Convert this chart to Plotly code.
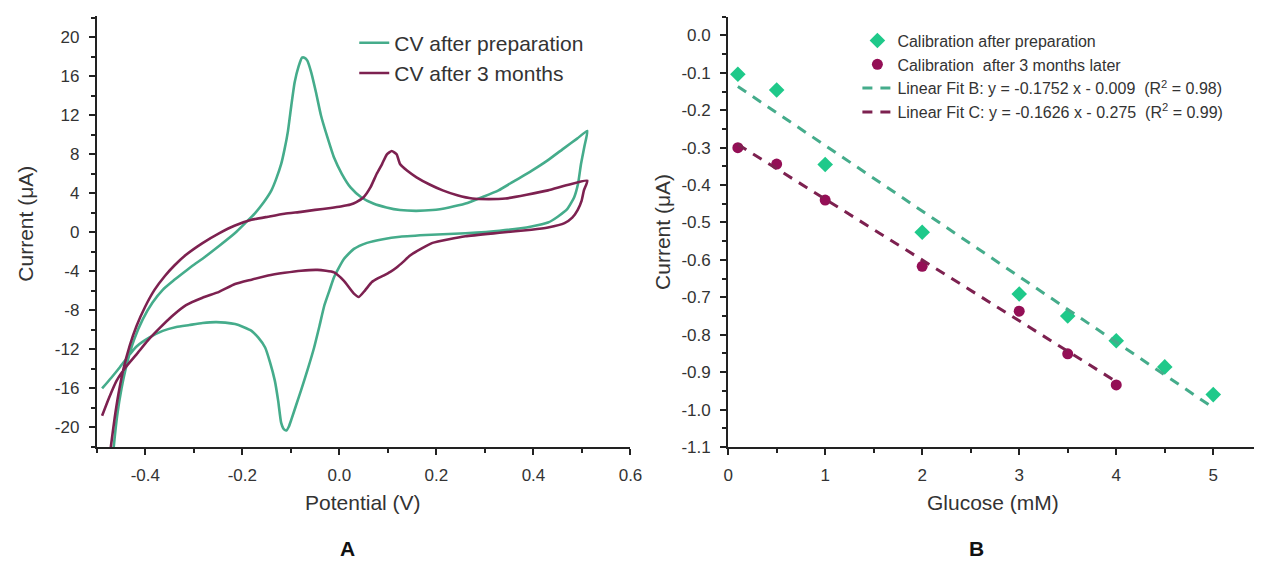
import plotly.graph_objects as go

# ---------------- Panel A: cyclic voltammograms ----------------
cv_prep_potential = [
    -0.489, -0.470, -0.452, -0.435, -0.418, -0.392, -0.364, -0.336, -0.309, -0.282, -0.255, -0.235,
    -0.215, -0.198, -0.181, -0.167, -0.153, -0.143, -0.133, -0.126, -0.120, -0.114, -0.109, -0.104,
    -0.099, -0.089, -0.079, -0.065, -0.052, -0.041, -0.031, -0.020, -0.011, 0.009, 0.030, 0.057,
    0.090, 0.125, 0.190, 0.260, 0.330, 0.396, 0.430, 0.450, 0.470, 0.484, 0.492, 0.498, 0.505, 0.511,
    0.490, 0.464, 0.430, 0.396, 0.362, 0.328, 0.294, 0.260, 0.226, 0.192, 0.158, 0.125, 0.097, 0.070,
    0.045, 0.023, 0.005, -0.011, -0.025, -0.038, -0.048, -0.058, -0.066, -0.072, -0.077, -0.084,
    -0.092, -0.099, -0.106, -0.113, -0.120, -0.130, -0.140, -0.157, -0.174, -0.195, -0.215, -0.248,
    -0.282, -0.299, -0.320, -0.343, -0.364, -0.385, -0.405, -0.423, -0.437, -0.449, -0.458, -0.465,
    -0.472,
]
cv_prep_current = [
    -16.0, -14.9, -13.8, -12.7, -11.7, -10.8, -10.1, -9.7, -9.5, -9.3, -9.2, -9.25,
    -9.4, -9.7, -10.1, -10.8, -11.8, -13.3, -15.2, -17.3, -19.5, -20.2, -20.3, -19.9,
    -19.2, -17.7, -16.2, -14.0, -11.8, -9.6, -7.5, -5.9, -4.6, -2.75, -1.7, -1.08,
    -0.7, -0.45, -0.25, -0.1, 0.15, 0.6, 1.0, 1.6, 2.4, 3.6, 5.0, 7.0, 8.8, 10.4,
    9.6, 8.66, 7.4, 6.3, 5.3, 4.3, 3.6, 2.95, 2.55, 2.28, 2.2, 2.28, 2.55, 2.95,
    3.6, 4.6, 6.0, 7.66, 9.8, 12.0, 14.3, 16.4, 17.6, 17.9, 17.9, 17.0,
    15.4, 13.0, 10.35, 8.5, 6.98, 5.5, 4.3, 3.0, 1.95, 0.9, -0.07, -1.4,
    -2.7, -3.3, -4.1, -5.0, -5.9, -7.2, -8.9, -11.0, -13.3, -16.0, -18.8, -22.0,
    -26.0,
]

cv_3m_potential = [
    -0.489, -0.475, -0.459, -0.440, -0.418, -0.395, -0.370, -0.345, -0.316, -0.282, -0.248, -0.215,
    -0.181, -0.147, -0.113, -0.079, -0.045, -0.011, 0.009, 0.030, 0.040, 0.053, 0.067, 0.080,
    0.091, 0.105, 0.118, 0.132, 0.145, 0.168, 0.192, 0.226, 0.260, 0.330, 0.396, 0.430, 0.464,
    0.480, 0.491, 0.499, 0.504, 0.511,
    0.470, 0.430, 0.386, 0.342, 0.308, 0.274, 0.243, 0.213, 0.186, 0.159, 0.140, 0.125, 0.118,
    0.108, 0.098, 0.088, 0.077, 0.064, 0.050, 0.035, 0.023, 0.003, -0.018, -0.050, -0.079,
    -0.113, -0.147, -0.181, -0.215, -0.248, -0.282, -0.316, -0.340, -0.360, -0.381, -0.400,
    -0.418, -0.432, -0.445, -0.455, -0.463, -0.471, -0.478,
]
cv_3m_current = [
    -18.8, -17.0, -15.2, -13.8, -12.5, -11.1, -9.8, -8.6, -7.46, -6.7, -6.1, -5.3,
    -4.85, -4.43, -4.15, -3.93, -3.85, -4.1, -4.94, -6.28, -6.62, -5.94, -5.1, -4.7,
    -4.43, -4.05, -3.6, -3.0, -2.4, -1.7, -1.08, -0.7, -0.4, -0.05, 0.27, 0.5, 0.94,
    1.5, 2.28, 3.2, 4.3, 5.3,
    4.85, 4.3, 3.85, 3.46, 3.4, 3.46, 3.8, 4.3, 4.9, 5.64, 6.3, 7.0, 8.0,
    8.33, 8.0, 7.0, 6.0, 4.6, 3.6, 3.1, 2.85, 2.65, 2.5, 2.3, 2.1,
    1.9, 1.6, 1.28, 0.7, -0.1, -1.1, -2.3, -3.4, -4.5, -5.9, -7.6,
    -9.6, -11.6, -14.0, -16.5, -19.0, -22.0, -25.0,
]

cv_x_ticks = [-0.4, -0.2, 0.0, 0.2, 0.4, 0.6]
cv_x_labels = ["-0.4", "-0.2", "0.0", "0.2", "0.4", "0.6"]
cv_y_ticks = [-20, -16, -12, -8, -4, 0, 4, 8, 12, 16, 20]
cv_y_labels = ["-20", "-16", "-12", "-8", "-4", "0", "4", "8", "12", "16", "20"]

# ---------------- Panel B: calibration ----------------
glucose_prep = [0.1, 0.5, 1, 2, 3, 3.5, 4, 4.5, 5]
current_prep = [-0.104, -0.146, -0.345, -0.526, -0.691, -0.750, -0.816, -0.886, -0.960]

glucose_3m = [0.1, 0.5, 1, 2, 3, 3.5, 4]
current_3m = [-0.300, -0.344, -0.440, -0.617, -0.737, -0.851, -0.934]

# linear fit coefficients (slope, intercept)
fit_b = (-0.1752, -0.119)
fit_c = (-0.1626, -0.275)

cal_x_ticks = [0, 1, 2, 3, 4, 5]
cal_x_labels = ["0", "1", "2", "3", "4", "5"]
cal_y_ticks = [0.0, -0.1, -0.2, -0.3, -0.4, -0.5, -0.6, -0.7, -0.8, -0.9, -1.0, -1.1]
cal_y_labels = ["0.0", "-0.1", "-0.2", "-0.3", "-0.4", "-0.5", "-0.6", "-0.7", "-0.8",
                "-0.9", "-1.0", "-1.1"]

GREEN_LINE = "#45ac8b"
MAROON_LINE = "#7d2150"
GREEN_MARK = "#1fc98a"
MAROON_MARK = "#940f56"
FONT = "Liberation Sans, Arial, sans-serif"
AX = "#222222"
TXT = "#333333"

fig = go.Figure()

fig.add_trace(go.Scatter(
    x=cv_prep_potential, y=cv_prep_current, mode="lines", name="CV after preparation",
    line=dict(color=GREEN_LINE, width=2.6, shape="spline", smoothing=0.5),
    xaxis="x", yaxis="y", legend="legend"))
fig.add_trace(go.Scatter(
    x=cv_3m_potential, y=cv_3m_current, mode="lines", name="CV after 3 months",
    line=dict(color=MAROON_LINE, width=2.6, shape="spline", smoothing=0.5),
    xaxis="x", yaxis="y", legend="legend"))

fig.add_trace(go.Scatter(
    x=glucose_prep, y=current_prep, mode="markers", name="Calibration after preparation",
    marker=dict(symbol="diamond", size=12, color=GREEN_MARK),
    xaxis="x2", yaxis="y2", legend="legend2"))
fig.add_trace(go.Scatter(
    x=glucose_3m, y=current_3m, mode="markers", name="Calibration\u00a0 after 3 months later",
    marker=dict(symbol="circle", size=11, color=MAROON_MARK),
    xaxis="x2", yaxis="y2", legend="legend2"))

xb = [min(glucose_prep), max(glucose_prep)]
fig.add_trace(go.Scatter(
    x=xb, y=[fit_b[0] * v + fit_b[1] for v in xb], mode="lines",
    name="Linear Fit B: y = -0.1752 x - 0.009\u00a0 (R<sup>2</sup> = 0.98)",
    line=dict(color=GREEN_LINE, width=3, dash="10px,8px"),
    xaxis="x2", yaxis="y2", legend="legend2"))
xc = [min(glucose_3m), max(glucose_3m)]
fig.add_trace(go.Scatter(
    x=xc, y=[fit_c[0] * v + fit_c[1] for v in xc], mode="lines",
    name="Linear Fit C: y = -0.1626 x - 0.275\u00a0 (R<sup>2</sup> = 0.99)",
    line=dict(color=MAROON_LINE, width=3, dash="10px,8px"),
    xaxis="x2", yaxis="y2", legend="legend2"))

W, H = 1266, 568


def px_x(p):
    return p / W


def px_y(p):
    return (H - p) / H


axis_common = dict(
    showline=True, linecolor=AX, linewidth=2, showgrid=False, zeroline=False,
    ticks="outside", ticklen=6, tickwidth=1.5, tickcolor=AX, tickmode="array",
    tickfont=dict(family=FONT, size=17, color=TXT), ticklabelstandoff=6,
)


def minor(step):
    return dict(ticks="outside", ticklen=4, tickmode="linear", dtick=step, tick0=0,
                tickcolor=AX, tickwidth=1.5)


fig.update_layout(
    width=W, height=H,
    margin=dict(l=0, r=0, t=0, b=0),
    paper_bgcolor="white", plot_bgcolor="white",
    font=dict(family=FONT, color=TXT),
    xaxis=dict(domain=[px_x(93), px_x(634)], range=[-0.5, 0.6],
               tickvals=cv_x_ticks, ticktext=cv_x_labels, anchor="y",
               minor=minor(0.1), **axis_common),
    yaxis=dict(domain=[px_y(455), px_y(16)], range=[-22, 22.2],
               tickvals=cv_y_ticks, ticktext=cv_y_labels, anchor="x",
               minor=minor(2), **axis_common),
    xaxis2=dict(domain=[px_x(733), 1.0], range=[0, 5.42],
                tickvals=cal_x_ticks, ticktext=cal_x_labels, anchor="y2",
                minor=minor(0.5), **axis_common),
    yaxis2=dict(domain=[px_y(455), px_y(17)], range=[-1.1, 0.05],
                tickvals=cal_y_ticks, ticktext=cal_y_labels, anchor="x2",
                minor=minor(0.05), **axis_common),
    legend=dict(x=px_x(354), y=px_y(23), xanchor="left", yanchor="top",
                bgcolor="rgba(0,0,0,0)", font=dict(family=FONT, size=21, color=TXT),
                tracegroupgap=0, itemwidth=30),
    legend2=dict(x=px_x(864), y=px_y(24), xanchor="left", yanchor="top",
                 bgcolor="rgba(0,0,0,0)", font=dict(family=FONT, size=16, color=TXT),
                 tracegroupgap=0, itemwidth=30),
    showlegend=True,
)

title_font = dict(family=FONT, size=21, color=TXT)
fig.add_annotation(text="Potential (V)", x=px_x(363), y=px_y(512), xref="paper", yref="paper",
                   showarrow=False, font=title_font, xanchor="center", yanchor="middle")
fig.add_annotation(text="Current (\u03bcA)", x=px_x(21), y=px_y(228), xref="paper", yref="paper",
                   showarrow=False, font=title_font, textangle=-90, xanchor="center", yanchor="middle")
fig.add_annotation(text="Glucose (mM)", x=px_x(1001), y=px_y(512), xref="paper", yref="paper",
                   showarrow=False, font=title_font, xanchor="center", yanchor="middle")
fig.add_annotation(text="Current (\u03bcA)", x=px_x(667), y=px_y(236), xref="paper", yref="paper",
                   showarrow=False, font=title_font, textangle=-90, xanchor="center", yanchor="middle")

panel_font = dict(family=FONT, size=21, color="#111111")
fig.add_annotation(text="<b>A</b>", x=px_x(347), y=px_y(558), xref="paper", yref="paper",
                   showarrow=False, font=panel_font, xanchor="center", yanchor="middle")
fig.add_annotation(text="<b>B</b>", x=px_x(985), y=px_y(558), xref="paper", yref="paper",
                   showarrow=False, font=panel_font, xanchor="center", yanchor="middle")

fig.write_html("out.html")
